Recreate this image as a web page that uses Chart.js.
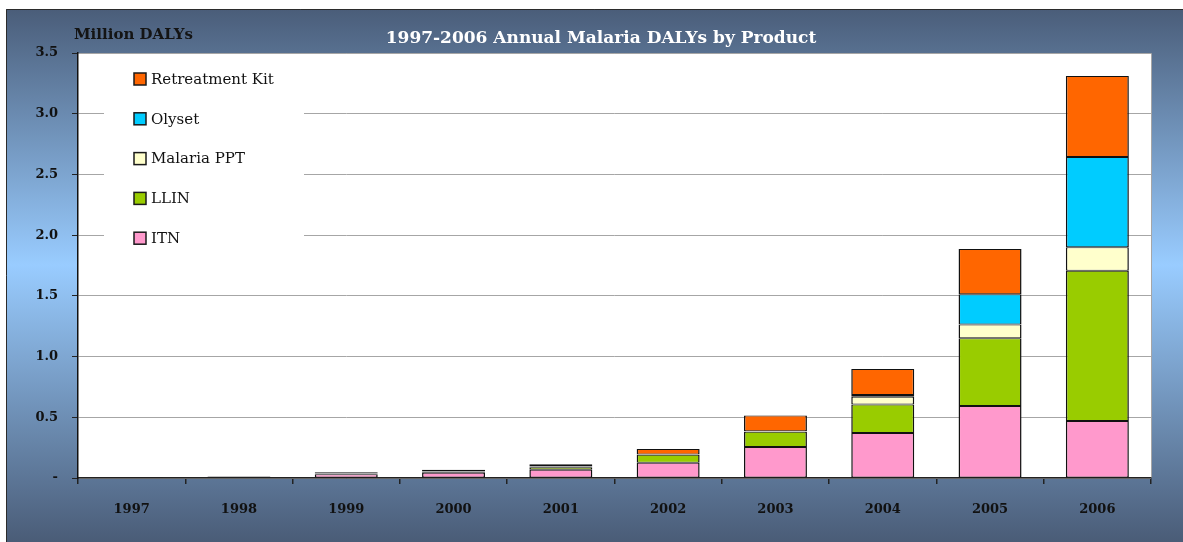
<!DOCTYPE html>
<html>
<head>
<meta charset="utf-8">
<script src="https://cdn.jsdelivr.net/npm/chart.js@4"></script>
<style>
  html, body { margin: 0; padding: 0; background: #fff; }
  #wrap { width: 1183px; height: 542px; }
</style>
</head>
<body>
<div id="wrap"><canvas id="myChart" width="1183" height="542"></canvas></div>
<script>
// data (million DALYs)
const years = ["1997", "1998", "1999", "2000", "2001", "2002", "2003", "2004", "2005", "2006"];
const itn = [0.003, 0.006, 0.031, 0.043, 0.068, 0.126, 0.255, 0.371, 0.593, 0.470];
const llin = [0, 0.002, 0.006, 0.010, 0.020, 0.066, 0.126, 0.235, 0.558, 1.236];
const malariaPpt = [0, 0, 0.002, 0.003, 0.004, 0.001, 0.002, 0.064, 0.113, 0.195];
const olyset = [0, 0, 0.002, 0.002, 0.004, 0.001, 0.002, 0.014, 0.250, 0.742];
const retreatmentKit = [0, 0.004, 0.006, 0.009, 0.018, 0.045, 0.130, 0.214, 0.371, 0.667];
const yTickLabels = ["-", "0.5", "1.0", "1.5", "2.0", "2.5", "3.0", "3.5"];

const serif = "'DejaVu Serif', serif";

// background frame + white plot area
const background = {
    id: "background",
    beforeDraw(chart) {
        const { ctx, chartArea: a } = chart;
        ctx.save();
        ctx.fillStyle = "#fff";
        ctx.fillRect(0, 0, chart.width, chart.height);
        const g = ctx.createLinearGradient(0, 9, 0, chart.height);
        g.addColorStop(0, "#4a5d79");
        g.addColorStop(0.48, "#99ccff");
        g.addColorStop(1, "#4a5c77");
        ctx.fillStyle = g;
        ctx.fillRect(6, 9, chart.width - 6, chart.height - 9);
        ctx.strokeStyle = "#2b2b2b";
        ctx.lineWidth = 1;
        ctx.beginPath();
        ctx.moveTo(6.5, chart.height);
        ctx.lineTo(6.5, 9.5);
        ctx.lineTo(chart.width, 9.5);
        ctx.stroke();
        ctx.fillStyle = "#fff";
        ctx.fillRect(a.left, a.top, a.right - a.left, a.bottom - a.top);
        ctx.strokeStyle = "#a6a6a6";
        ctx.beginPath();
        ctx.moveTo(a.left, a.top + 0.5);
        ctx.lineTo(a.right + 0.5, a.top + 0.5);
        ctx.lineTo(a.right + 0.5, a.bottom);
        ctx.stroke();
        ctx.restore();
    },
};

// titles
const titles = {
    id: "titles",
    afterDraw(chart) {
        const { ctx } = chart;
        ctx.save();
        ctx.textBaseline = "middle";
        ctx.fillStyle = "#fff";
        ctx.textAlign = "center";
        ctx.font = "bold 17px " + serif;
        ctx.fillText("1997-2006 Annual Malaria DALYs by Product", 601, 39);
        ctx.fillStyle = "#141414";
        ctx.textAlign = "left";
        ctx.font = "bold 15px " + serif;
        ctx.fillText("Million DALYs", 74, 35);
        ctx.restore();
    },
};

// legend inside the plot, top item is the top of the stack
const insideLegend = {
    id: "insideLegend",
    afterDatasetsDraw(chart) {
        const { ctx } = chart;
        const sets = chart.data.datasets.slice().reverse();
        ctx.save();
        ctx.fillStyle = "#fff";
        ctx.fillRect(104, 60, 200, 196);
        ctx.font = "15px " + serif;
        ctx.textBaseline = "middle";
        ctx.textAlign = "left";
        sets.forEach((ds, i) => {
            const y = 79 + i * 39.8;
            ctx.fillStyle = ds.backgroundColor;
            ctx.fillRect(134, y - 6, 12, 12);
            ctx.strokeStyle = "#1a1a1a";
            ctx.lineWidth = 1.5;
            ctx.strokeRect(134, y - 6, 12, 12);
            ctx.fillStyle = "#111";
            ctx.fillText(ds.label, 151, y + 1);
        });
        ctx.restore();
    },
};

const makeSet = (label, data, color) => ({
    label,
    data,
    backgroundColor: color,
    borderColor: "#111",
    borderWidth: { top: 1, bottom: 1, left: 1.5, right: 1.5 },
    borderSkipped: false,
    barPercentage: 0.587,
    categoryPercentage: 1,
});

const ctx = document.getElementById("myChart").getContext("2d");
new Chart(ctx, {
    type: "bar",
    data: {
        labels: years,
        datasets: [
            makeSet("ITN", itn, "#ff99cc"),
            makeSet("LLIN", llin, "#99cc00"),
            makeSet("Malaria PPT", malariaPpt, "#ffffcc"),
            makeSet("Olyset", olyset, "#00ccff"),
            makeSet("Retreatment Kit", retreatmentKit, "#ff6600"),
        ],
    },
    options: {
        responsive: false,
        animation: false,
        devicePixelRatio: 1,
        layout: { padding: { top: 53, right: 32, left: 0, bottom: 0 } },
        plugins: {
            legend: { display: false },
            title: { display: false },
            tooltip: { enabled: false },
        },
        scales: {
            x: {
                stacked: true,
                afterFit: (s) => { s.height = 64; },
                grid: {
                    drawOnChartArea: false,
                    offset: true,
                    tickLength: 6,
                    tickColor: "#222",
                    lineWidth: 1.5,
                },
                border: { color: "#222", width: 1.5 },
                ticks: {
                    color: "#111",
                    padding: 18,
                    font: { family: serif, size: 13, weight: "bold" },
                },
            },
            y: {
                stacked: true,
                min: 0,
                max: 3.5,
                afterFit: (s) => { s.width = 78; },
                grid: {
                    color: "#a6a6a6",
                    tickColor: "#222",
                    tickLength: 6,
                },
                border: { color: "#111", width: 1.5 },
                ticks: {
                    stepSize: 0.5,
                    color: "#111",
                    padding: 14,
                    font: { family: serif, size: 13, weight: "bold" },
                    callback: (v, i) => yTickLabels[i],
                },
            },
        },
    },
    plugins: [background, titles, insideLegend],
});
</script>
</body>
</html>
